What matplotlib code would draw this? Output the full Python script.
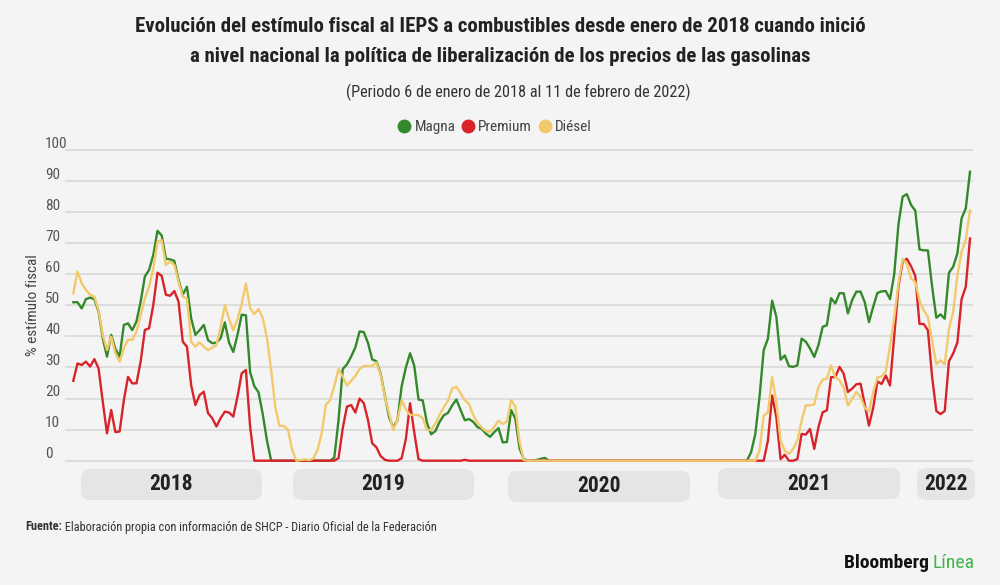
import matplotlib
matplotlib.use('Agg')
import matplotlib.pyplot as plt
from matplotlib.lines import Line2D
from matplotlib.patches import FancyBboxPatch
from matplotlib.transforms import IdentityTransform, blended_transform_factory
import pandas as pd

BG = '#f4f4f4'
MAGNA_COLOR = '#33892a'
PREMIUM_COLOR = '#d8232a'
DIESEL_COLOR = '#f2c96b'
TEXT_DARK = '#222222'
TEXT_GRAY = '#555555'
FONT = ['Roboto Condensed', 'Roboto', 'DejaVu Sans']

# weekly periods, 6 Jan 2018 .. 5-11 Feb 2022
weeks = pd.date_range('2018-01-06', periods=214, freq='7D')

magna = [
    51, 51, 49, 52, 52.5, 52, 48, 39.4, 33.5, 40.5, 36, 33.5, 43.7, 44.2, 42, 44.8,
    51.2, 59.3, 61.4, 66.2, 74, 72.5, 65, 64.8, 64.3, 58.2, 53.4, 56, 45.8, 40.5, 42, 43.7,
    38.8, 37.8, 38, 39.4, 44.5, 38, 35, 40.5, 47, 46.8, 28.5, 24, 22, 15, 6.5, 0,
    0, 0, 0, 0, 0, 0, 0, 0, 0, 0, 0, 0, 0, 0,
    1, 13, 29.5, 31, 33.5, 36.5, 41.6, 41.4, 37.9, 32.6, 32, 28, 21, 14, 10.8, 13,
    24, 30, 34.6, 30.5, 19.7, 19.4, 12.2, 8.5, 9.5, 12.5, 14.6, 15.4, 17.8, 19.7, 16.3, 13,
    13.4, 12.5, 10.8, 10.3, 8.7, 7.7, 9.2, 10.5, 5.9, 6, 16.3, 13.5, 4, 0.5, 0, 0,
    0.2, 0.6, 0.9, 0,
    0, 0, 0, 0, 0, 0, 0, 0, 0, 0, 0, 0, 0, 0, 0, 0,
    0, 0, 0, 0, 0, 0, 0, 0, 0, 0, 0, 0, 0, 0, 0, 0,
    0, 0, 0, 0, 0, 0, 0, 0, 0, 0, 0, 0, 0, 0, 0,
    2.7, 8.6, 20.5, 35.6, 39.3, 51.5, 46.3, 32.5, 33.9, 30.4, 30.2, 30.7, 39.3, 38.3, 36.1, 33.4,
    37.2, 43.1, 43.6, 52.3, 50.6, 53.9, 53.9, 47.4, 51.7, 54.4, 54.4, 51, 44.6, 49.5, 54, 54.5,
    54.6, 52, 60, 76, 85, 85.8, 82.3, 80.5, 68, 67.7, 67.7, 56, 46, 47.1, 45.7, 60.5,
    62.4, 66.7, 78, 81.2, 93,
]

premium = [
    25.7, 31.3, 30.8, 31.9, 30.3, 32.7, 29.7, 19, 8.8, 16.3, 9.2, 9.4, 19.4, 27, 24.9, 24.9,
    31.9, 42.1, 42.6, 50.1, 60.5, 59.5, 53.4, 53.1, 54.6, 51.2, 38.3, 36.7, 24.3, 17.9, 21.1, 22.2,
    15.3, 13.7, 11, 13.7, 15.8, 15.5, 14.2, 20.6, 28.1, 29.2, 11, 0,
    0, 0, 0, 0, 0, 0, 0, 0, 0, 0, 0, 0, 0, 0, 0, 0, 0, 0, 0,
    0.8, 10.4, 17.4, 17.9, 15.5, 20, 18.5, 13.1, 5.6, 4.3, 1.5, 0.3, 0, 0, 0, 0.8,
    7, 18.5, 9, 0.5,
    0, 0, 0, 0, 0, 0, 0, 0, 0, 0, 0.3,
    0, 0, 0, 0, 0, 0, 0, 0, 0, 0, 0, 0, 0, 0, 0, 0,
    0, 0, 0, 0, 0, 0, 0, 0, 0, 0, 0, 0, 0, 0, 0, 0,
    0, 0, 0, 0, 0, 0, 0, 0, 0, 0, 0, 0, 0, 0, 0, 0,
    0, 0, 0, 0, 0, 0, 0, 0, 0, 0, 0, 0, 0, 0, 0, 0,
    0, 0, 0, 0, 0, 0, 0,
    6.5, 21, 14, 0.5, 1.9, 0, 0, 0.5, 8.6, 8.4, 10.2, 3.8, 10.8, 15.6, 16.2, 26.9,
    26.9, 30.2, 28, 22.1, 23.2, 24.6, 24.8, 18, 11.3, 17, 25.5, 24.7, 27.4, 24.2, 40, 56,
    64, 65, 62.6, 59.5, 44, 44, 42, 27, 16, 15, 16, 32, 34.5, 38, 52, 56,
    71.5,
]

diesel = [
    53.9, 60.9, 57.1, 55, 53.4, 52.8, 48.5, 40.5, 35.6, 39.9, 34.6, 31.9, 36.2, 38.9, 38.9, 41.5,
    46.9, 52.2, 56, 61.9, 70.5, 71, 63, 64.1, 63, 57.6, 52.8, 52.2, 38.3, 36.7, 38.1, 36.7,
    35.6, 36.4, 37.2, 43.1, 50.1, 45.5, 42, 45.5, 50.5, 57, 49, 47.2, 48.8, 46, 39.5, 29.2,
    17, 11.2, 11.2, 10, 3.4, 0, 0.2, 0.4, 0.2, 0.7, 3.4, 8.8, 18, 19.5, 24, 29.5,
    27, 24.2, 25.7, 27.3, 29.5, 30.5, 30.5, 30.5, 31.6, 27.6, 20.6, 15.2, 9.9, 13.1, 19.5, 16.5,
    14.7, 14.7, 14.7, 13.6, 9.9, 9.9, 12, 14.7, 17.2, 19.3, 23.3, 23.8, 21.7, 19.5, 18.2, 14.7,
    12.2, 10.7, 9.5, 9.3, 10.9, 12.9, 11.8, 12.6, 19.5, 17.4, 6.1, 0.2,
    0, 0, 0, 0, 0, 0, 0, 0, 0, 0, 0, 0, 0, 0, 0, 0,
    0, 0, 0, 0, 0, 0, 0, 0, 0, 0, 0, 0, 0, 0, 0, 0,
    0, 0, 0, 0, 0, 0, 0, 0, 0, 0, 0, 0, 0, 0, 0, 0,
    0, 0, 0, 0, 0, 0, 0,
    3.2, 14.5, 15.6, 26.9, 18.9, 6.5, 3.2, 2.2, 3.8, 6.5, 12.9, 17.8, 17.8, 18.1, 23.7, 26.1,
    26.4, 30.7, 26.9, 25.9, 23.5, 17.8, 19.9, 22.1, 20.5, 17, 15.8, 22, 26.8, 27.1, 28.8, 37,
    46, 57, 65, 63.4, 58.6, 57.5, 51.6, 48.4, 46.2, 38.7, 31, 32.3, 31, 42.5, 47.8, 59.7,
    67.2, 71.2, 80.6,
]

series_names = ['Magna', 'Premium', 'Diésel']
y_ticks = [0, 10, 20, 30, 40, 50, 60, 70, 80, 90, 100]
years = ['2018', '2019', '2020', '2021', '2022']

title_lines = [
    'Evolución del estímulo fiscal al IEPS a combustibles desde enero de 2018 cuando inició',
    'a nivel nacional la política de liberalización de los precios de las gasolinas',
]
subtitle = '(Periodo 6 de enero de 2018 al 11 de febrero de 2022)'
source_bold = 'Fuente:'
source_rest = ' Elaboración propia con información de SHCP - Diario Oficial de la Federación'

W, H = 1000, 585


def fy(py):
    """pixel row (from top) -> figure fraction"""
    return 1 - py / H


fig = plt.figure(figsize=(W / 100, H / 100), dpi=100, facecolor=BG)

# plot area: y=0 at px 460.7, y=100 at px 150
px_per_unit = (460.7 - 150) / 100
y_lo, y_hi = -1.5, 101.5
ax_bottom = 460.7 + 1.5 * px_per_unit
ax_top = 150 - 1.5 * px_per_unit
ax = fig.add_axes([65 / W, fy(ax_bottom), 908 / W, (ax_bottom - ax_top) / H])
ax.set_facecolor(BG)

px_per_day = (970 - 73.3) / (weeks[-1] - weeks[0]).days
ax.set_xlim(weeks[0] - pd.Timedelta(days=8.3 / px_per_day),
            weeks[-1] + pd.Timedelta(days=3 / px_per_day))
ax.set_ylim(y_lo, y_hi)

ax.plot(weeks, magna, color=MAGNA_COLOR, lw=1.7, solid_joinstyle='round')
ax.plot(weeks, premium, color=PREMIUM_COLOR, lw=1.7, solid_joinstyle='round')
ax.plot(weeks, diesel, color=DIESEL_COLOR, lw=1.7, solid_joinstyle='round')

ax.set_yticks(y_ticks)
ax.set_xticks([])
ax.yaxis.grid(True, color='#d9d9d9', lw=1.2)
ax.set_axisbelow(True)
ax.tick_params(left=False, labelleft=False)
for spine in ax.spines.values():
    spine.set_visible(False)

label_tr = blended_transform_factory(fig.transFigure, ax.transData)
for v in y_ticks:
    ax.text(45 / W, v + 0.8, str(v), transform=label_tr, ha='left', va='baseline',
            fontsize=11, color=TEXT_GRAY, family=FONT)

fig.text(33 / W, fy(305), '% estímulo fiscal', rotation=90, ha='center', va='center',
         fontsize=11, color='#444444', family=FONT)

# titles
fig.text(0.5, fy(27), title_lines[0], ha='center', va='center', fontsize=15,
         fontweight='bold', color=TEXT_DARK, family=FONT)
fig.text(0.5, fy(57), title_lines[1], ha='center', va='center', fontsize=15,
         fontweight='bold', color=TEXT_DARK, family=FONT)
fig.text(0.518, fy(92), subtitle, ha='center', va='center', fontsize=11.7,
         color='#333333', family=FONT)

# legend
handles = [Line2D([], [], ls='', marker='o', markersize=9, color=c)
           for c in (MAGNA_COLOR, PREMIUM_COLOR, DIESEL_COLOR)]
fig.legend(handles, series_names, loc='center', bbox_to_anchor=(0.495, fy(127)), ncol=3,
           frameon=False, handletextpad=0.25, columnspacing=0.45, handlelength=0.8,
           prop={'family': FONT, 'size': 11}, labelcolor='#444444')

# year boxes under the plot (pixel layout)
year_boxes = [(81, 262, 469, 500), (293, 474, 469, 500), (508, 690, 471, 502),
              (718, 900, 468, 499), (917, 975, 468, 500)]
for label, (x0, x1, y0, y1) in zip(years, year_boxes):
    box = FancyBboxPatch((x0, H - y1), x1 - x0, y1 - y0,
                         boxstyle='round,pad=0,rounding_size=9',
                         transform=IdentityTransform(), facecolor='#e5e5e5',
                         edgecolor='none')
    fig.patches.append(box)
    fig.text((x0 + x1) / 2 / W, fy((y0 + y1) / 2), label, ha='center', va='center',
             fontsize=15.5, fontweight='bold', color=TEXT_DARK, family=FONT)

# footer
fig.canvas.draw()
renderer = fig.canvas.get_renderer()
src = fig.text(25 / W, fy(527), source_bold, ha='left', va='center', fontsize=8.8,
               fontweight='bold', color='#333333', family=FONT)
bb = src.get_window_extent(renderer)
fig.text(bb.x1 / W, fy(527), source_rest, ha='left', va='center', fontsize=8.8,
         color='#333333', family=FONT)

brand = fig.text(975 / W, fy(563), 'Línea', ha='right', va='center', fontsize=14,
                 color='#3db54a', family=FONT)
bb = brand.get_window_extent(renderer)
fig.text(bb.x0 / W, fy(563), 'Bloomberg ', ha='right', va='center', fontsize=14,
         fontweight='bold', color='#111111', family=FONT)

fig.savefig('out.png', dpi=100, facecolor=BG)
